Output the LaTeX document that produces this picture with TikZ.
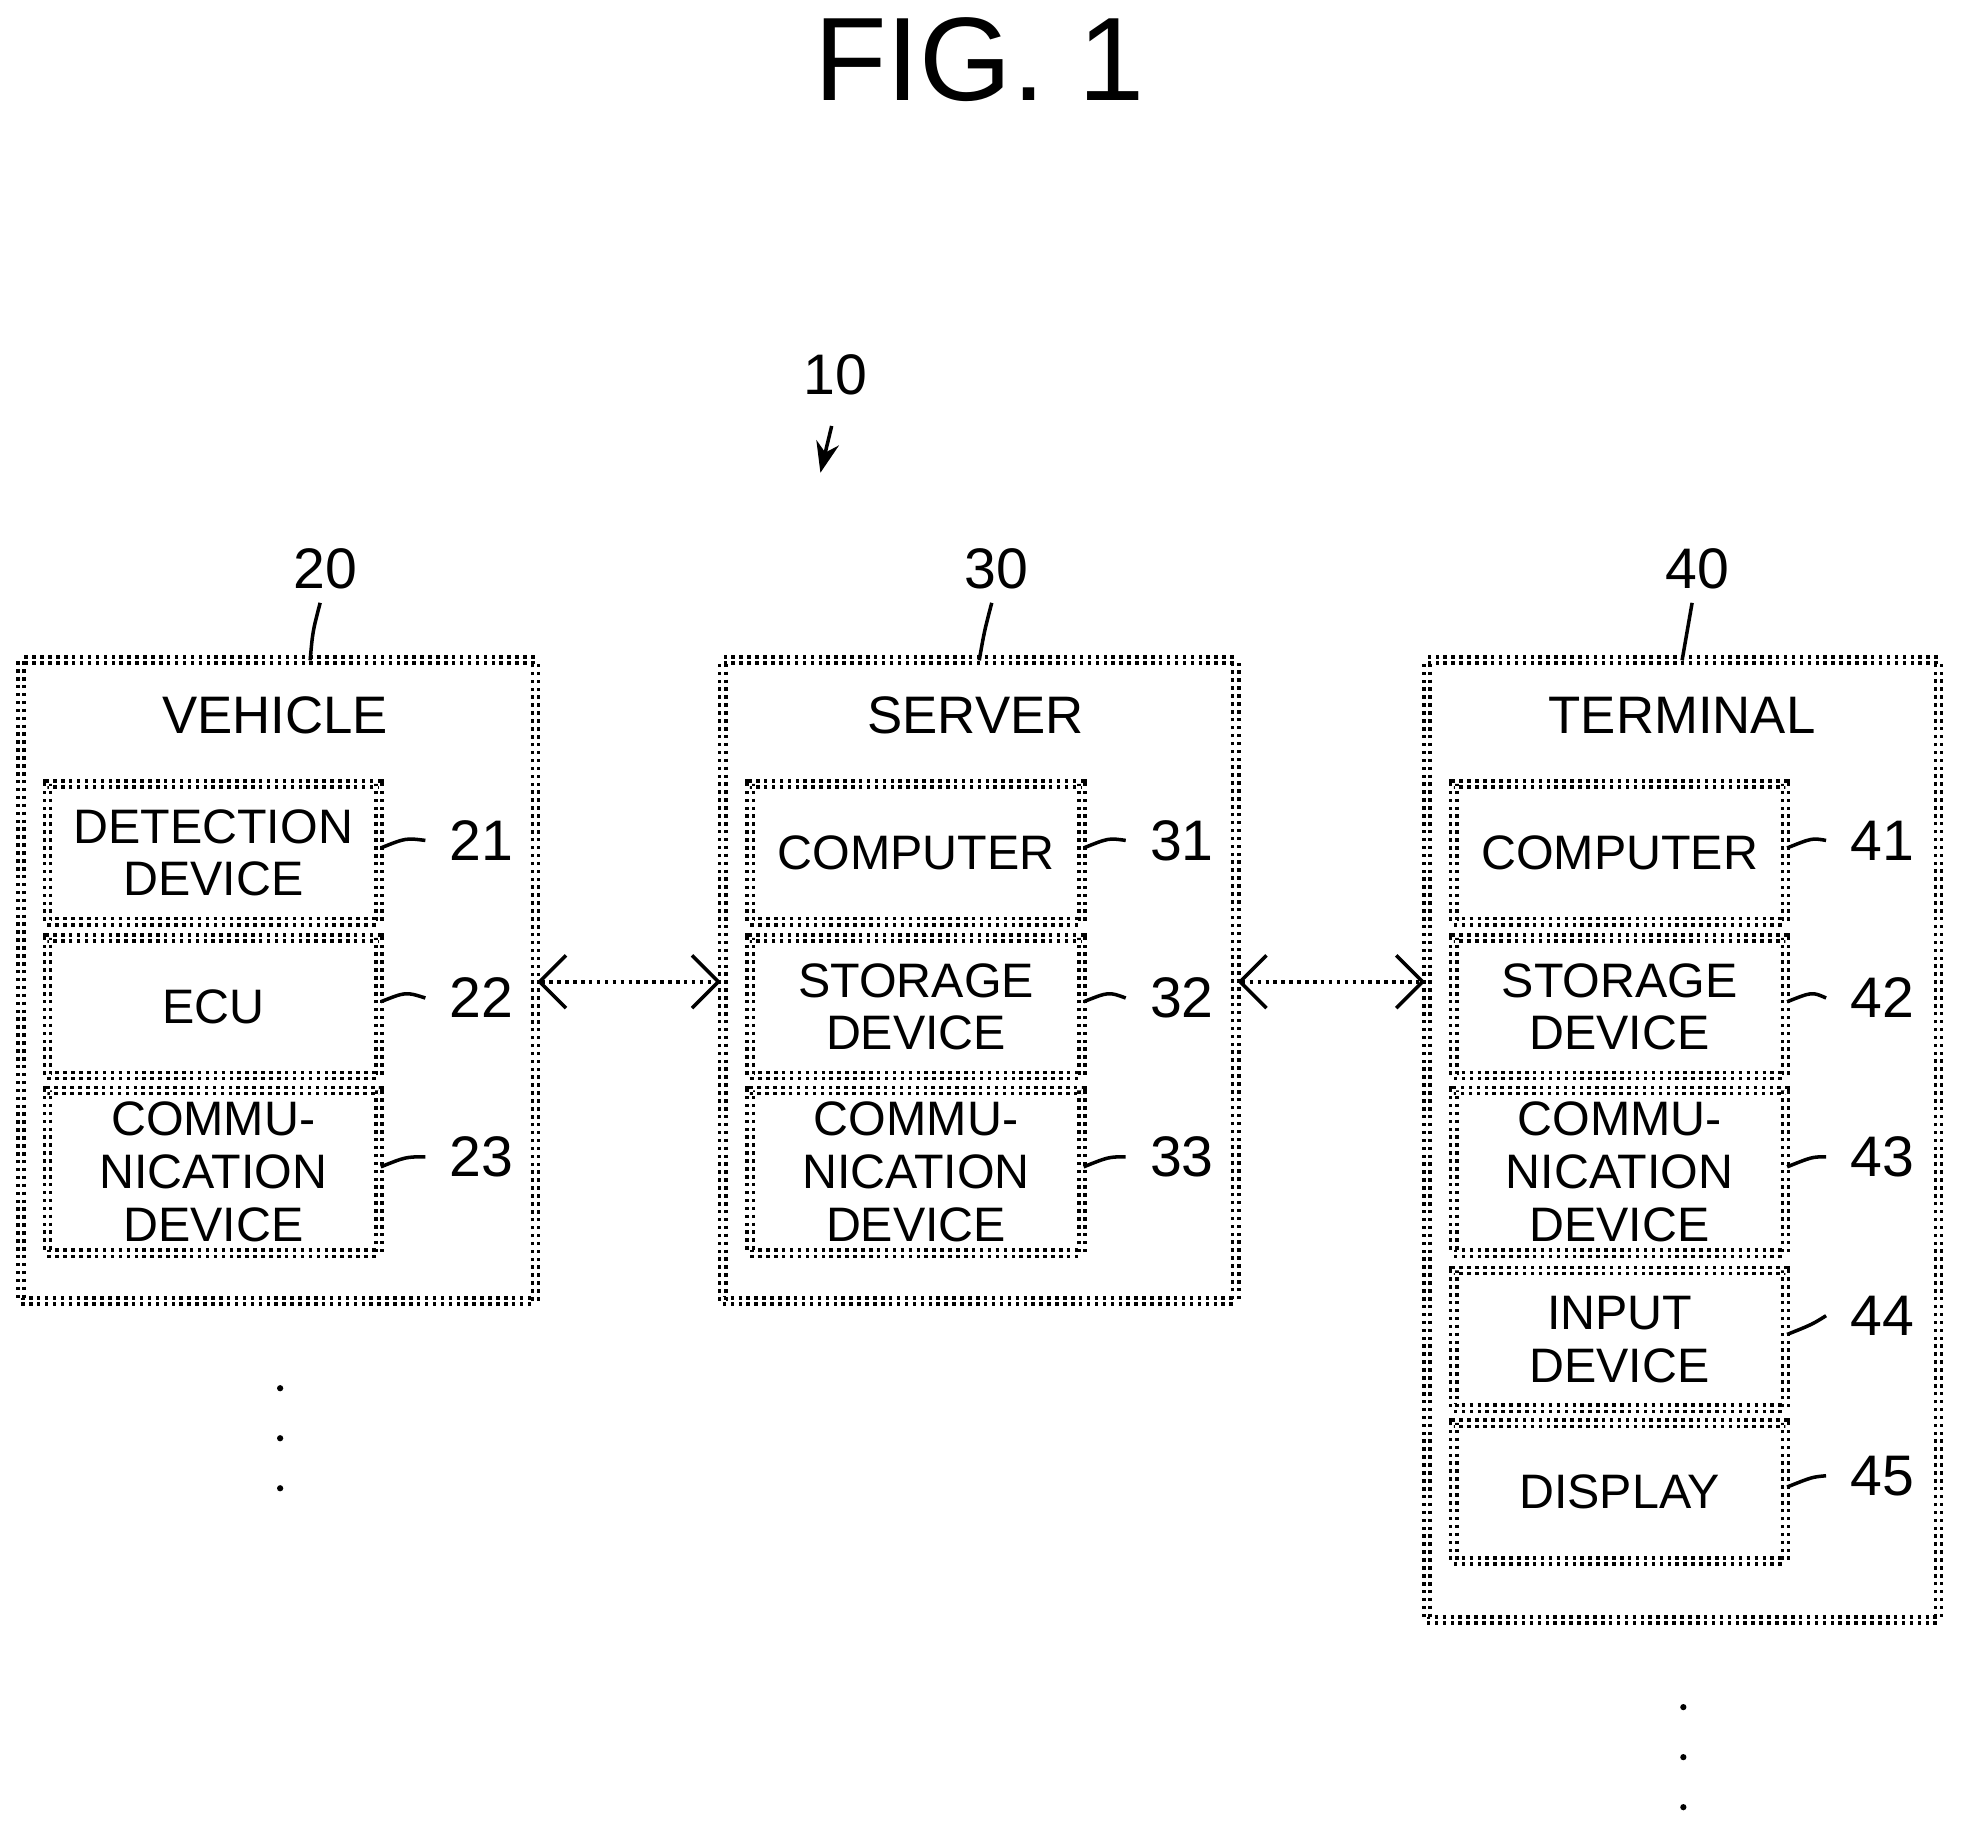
\documentclass[tikz,border=0pt]{standalone}
\usepackage{fontspec}
\setmainfont{Liberation Sans}
\usetikzlibrary{positioning, arrows.meta}
\tikzset{
    outer/.style={draw, thick, densely dotted, double, double distance=0.6pt, inner sep=0}, % outer device frames
    part/.style={draw, thick, densely dotted, double, double distance=0.6pt, minimum width=2.65cm, align=center, font=\fontsize{11}{12}\selectfont, inner sep=0},
    ref/.style={font=\fontsize{13}{14}\selectfont},
    lead/.style={thick},
    link/.style={densely dotted, thick, {Straight Barb[length=6pt]}-{Straight Barb[length=6pt]}},
    }
\begin{document}
\begin{tikzpicture}[x=0.01cm, y=-0.01cm]
\useasboundingbox (0,0) rectangle (1568,1466);
\node[font=\fontsize{27}{28}\selectfont] (fig) at (783,48) {FIG. 1};

% system reference
\node[ref] (n10) at (668,300) {10};
\draw[lead, -{Stealth[length=7pt]}] (n10.south) ++(-3,12) -- (656,378);

% outer frames
\node[outer, minimum width=4.11cm, minimum height=5.12cm] (veh) at (222.5,784) {};
\node[outer, minimum width=4.10cm, minimum height=5.12cm] (srv) at (783,784) {};
\node[outer, minimum width=4.09cm, minimum height=7.67cm] (ter) at (1345.5,911.5) {};
\node[font=\fontsize{12}{13}\selectfont] at (220,572) {VEHICLE};
\node[font=\fontsize{12}{13}\selectfont] at (780,572) {SERVER};
\node[font=\fontsize{12}{13}\selectfont] at (1345,572) {TERMINAL};
\node[ref] (n20) at (260,455) {20};
\node[ref] (n30) at (797,455) {30};
\node[ref] (n40) at (1357,455) {40};
\draw[lead] (248,528) .. controls (250,505) .. (256,482);
\draw[lead] (783,528) .. controls (787,505) .. (793,482);
\draw[lead] (1345,528) .. controls (1349,505) .. (1353,482);

% vehicle parts
\node[part, minimum height=1.10cm] (p21) at (170.5,682) {DETECTION\\DEVICE};
\node[part, minimum height=1.10cm] (p22) at (170.5,805) {ECU};
\node[part, minimum height=1.30cm] (p23) at (170.5,937) {COMMU-\\NICATION\\DEVICE};
% server parts
\node[part, minimum height=1.10cm] (p31) at (732.5,682) {COMPUTER};
\node[part, minimum height=1.10cm] (p32) at (732.5,805) {STORAGE\\DEVICE};
\node[part, minimum height=1.30cm] (p33) at (732.5,937) {COMMU-\\NICATION\\DEVICE};
% terminal parts
\node[part, minimum height=1.10cm] (p41) at (1295,682) {COMPUTER};
\node[part, minimum height=1.10cm] (p42) at (1295,805) {STORAGE\\DEVICE};
\node[part, minimum height=1.30cm] (p43) at (1295,937) {COMMU-\\NICATION\\DEVICE};
\node[part, minimum height=1.10cm] (p44) at (1295,1071) {INPUT\\DEVICE};
\node[part, minimum height=1.10cm] (p45) at (1295,1193) {DISPLAY};

% reference numerals
\foreach \p/\x/\y in {21/385/672, 22/385/798, 23/385/925, 31/945/672, 32/945/798, 33/945/925,
                      41/1505/672, 42/1505/798, 43/1505/925, 44/1505/1052, 45/1505/1180} {
  \node[ref] (r\p) at (\x,\y) {\p};
  \draw[lead] (p\p.east) ++(0,-4) .. controls +(20,-8) .. ([xshift=-2pt]r\p.west);
}

% links
\draw[link] (veh.east |- 0,785) -- (srv.west |- 0,785);
\draw[link] (srv.east |- 0,785) -- (ter.west |- 0,785);

% continuation dots
\foreach \y in {1110,1150,1190} \fill (224,\y) circle (2.5);
\foreach \y in {1365,1405,1445} \fill (1346,\y) circle (2.5);
\end{tikzpicture}
\end{document}
